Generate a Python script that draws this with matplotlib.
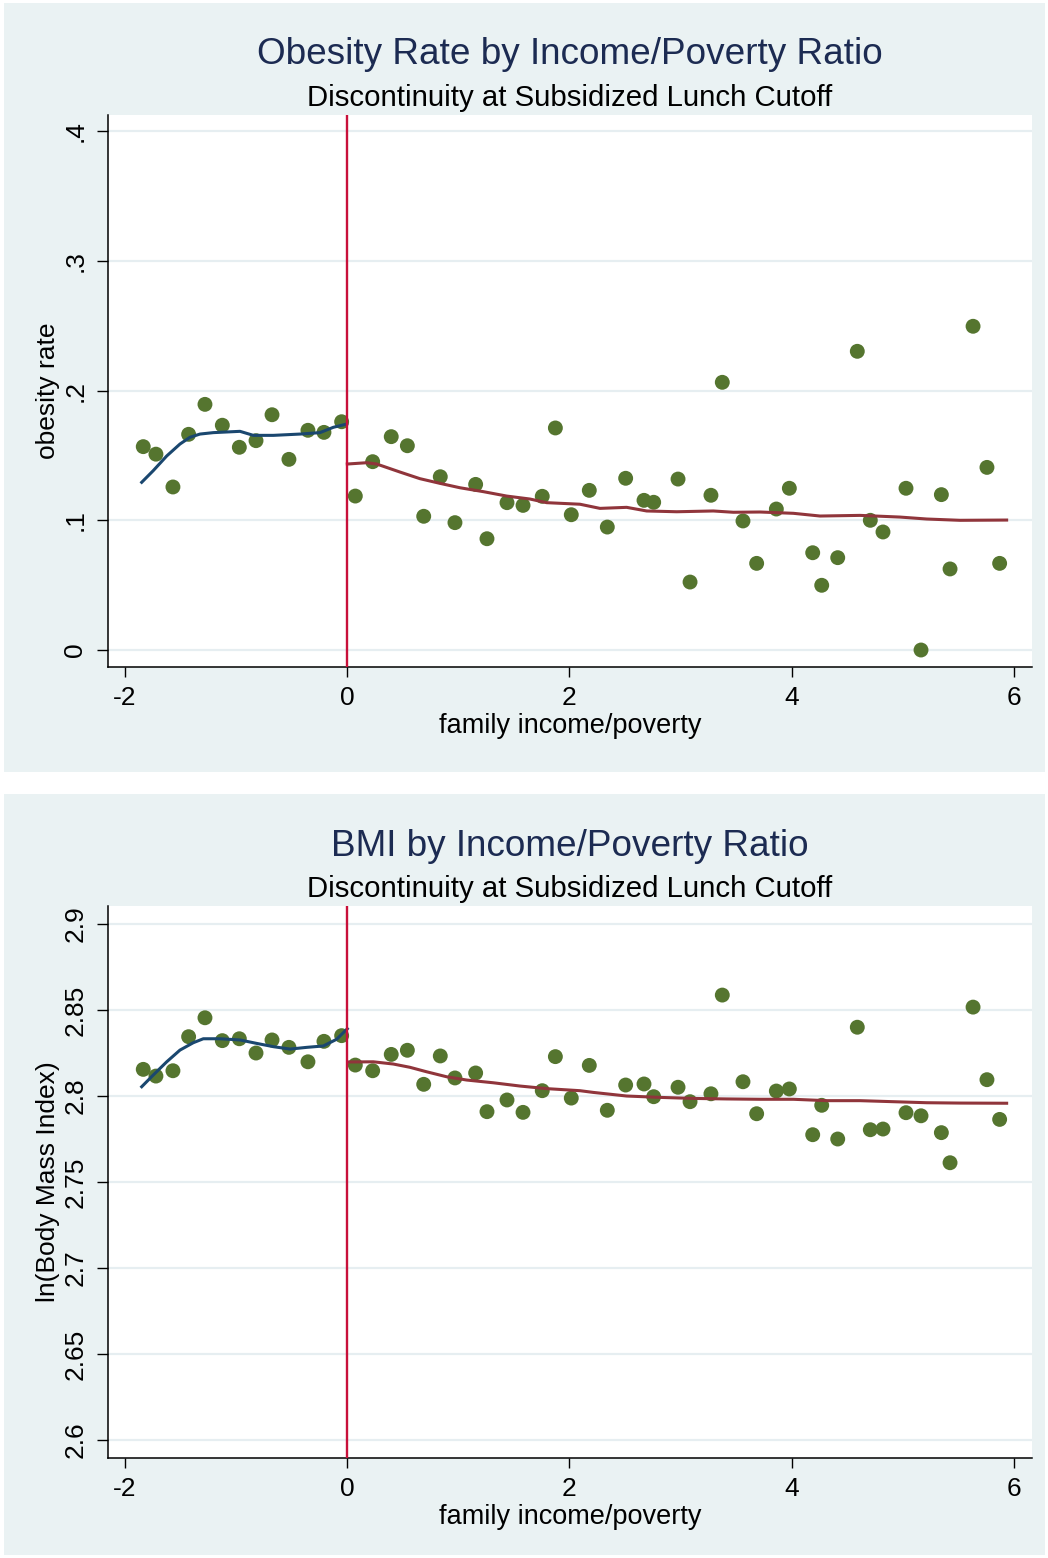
import matplotlib
matplotlib.use("Agg")
import matplotlib.pyplot as plt
from matplotlib.patches import Rectangle

plt.rcParams['font.family'] = ['Liberation Sans', 'DejaVu Sans']

# ---------------- data ----------------
x_left = [-1.832, -1.718, -1.565, -1.424, -1.277, -1.121, -0.968, -0.818,
          -0.674, -0.522, -0.351, -0.207, -0.048]
x_right = [0.075, 0.231, 0.398, 0.543, 0.690, 0.839, 0.971, 1.157, 1.259,
           1.439, 1.583, 1.756, 1.874, 2.017, 2.179, 2.341, 2.506, 2.671,
           2.758, 2.977, 3.085, 3.273, 3.375, 3.561, 3.684, 3.861, 3.978,
           4.188, 4.269, 4.413, 4.589, 4.706, 4.820, 5.027, 5.162, 5.345,
           5.423, 5.630, 5.755, 5.869]

obese_left = [0.1568, 0.1510, 0.1257, 0.1663, 0.1894, 0.1733, 0.1563, 0.1614,
              0.1814, 0.1470, 0.1694, 0.1678, 0.1760]
obese_right = [0.1187, 0.1452, 0.1645, 0.1575, 0.1031, 0.1336, 0.0982, 0.1277,
               0.0858, 0.1136, 0.1115, 0.1185, 0.1712, 0.1043, 0.1231, 0.0948,
               0.1324, 0.1154, 0.1139, 0.1318, 0.0524, 0.1193, 0.2064, 0.0995,
               0.0668, 0.1087, 0.1247, 0.0750, 0.0499, 0.0712, 0.2303, 0.1000,
               0.0910, 0.1247, 0.0000, 0.1198, 0.0625, 0.2496, 0.1408, 0.0668]

bmi_left = [2.8155, 2.8116, 2.8147, 2.8345, 2.8455, 2.8322, 2.8333, 2.8250,
            2.8326, 2.8283, 2.8199, 2.8318, 2.8351]
bmi_right = [2.8180, 2.8147, 2.8242, 2.8266, 2.8068, 2.8233, 2.8105, 2.8134,
             2.7909, 2.7977, 2.7905, 2.8031, 2.8229, 2.7988, 2.8178, 2.7917,
             2.8064, 2.8070, 2.7996, 2.8051, 2.7967, 2.8013, 2.8587, 2.8083,
             2.7897, 2.8029, 2.8041, 2.7775, 2.7946, 2.7750, 2.8400, 2.7804,
             2.7808, 2.7903, 2.7885, 2.7787, 2.7612, 2.8517, 2.8095, 2.7864]

# smoothed fits
fitL_x = [-1.846, -1.742, -1.621, -1.502, -1.412, -1.322, -1.202, -0.962,
          -0.842, -0.662, -0.422, -0.243, -0.123, -0.003]
fitL_ob = [0.1293, 0.1383, 0.1496, 0.1588, 0.1640, 0.1665, 0.1676, 0.1686,
           0.1655, 0.1655, 0.1665, 0.1676, 0.1717, 0.1742]
fitR_x_ob = [0.003, 0.177, 0.267, 0.477, 0.656, 0.836, 1.016, 1.226, 1.436,
             1.646, 1.796, 2.095, 2.275, 2.515, 2.695, 2.965, 3.294, 3.474,
             3.714, 4.014, 4.254, 4.613, 4.973, 5.213, 5.513, 5.932]
fitR_ob = [0.1434, 0.1444, 0.1434, 0.1372, 0.1321, 0.1285, 0.1251, 0.1221,
           0.1187, 0.1164, 0.1136, 0.1124, 0.1092, 0.1100, 0.1072, 0.1066,
           0.1072, 0.1062, 0.1064, 0.1054, 0.1033, 0.1038, 0.1025, 0.1010,
           0.1000, 0.1002]

fitL_x_bmi = [-1.846, -1.742, -1.621, -1.502, -1.382, -1.292, -1.142, -0.962,
              -0.812, -0.662, -0.512, -0.362, -0.213, -0.093, 0.003]
fitL_bmi = [2.8054, 2.8122, 2.8199, 2.8267, 2.8310, 2.8333, 2.8333, 2.8326,
            2.8306, 2.8287, 2.8273, 2.8283, 2.8291, 2.8330, 2.8391]
fitR_x_bmi = [0.012, 0.237, 0.417, 0.566, 0.716, 0.896, 1.076, 1.316, 1.556,
              1.796, 2.095, 2.215, 2.515, 2.815, 3.114, 3.414, 3.714, 4.014,
              4.313, 4.613, 4.913, 5.213, 5.513, 5.932]
fitR_bmi = [2.8198, 2.8199, 2.8186, 2.8167, 2.8141, 2.8112, 2.8093, 2.8077,
            2.8058, 2.8043, 2.8031, 2.8021, 2.8000, 2.7992, 2.7986, 2.7983,
            2.7981, 2.7981, 2.7973, 2.7973, 2.7967, 2.7961, 2.7959, 2.7958]

x_ticks = [-2, 0, 2, 4, 6]
x_ticklabels = ["-2", "0", "2", "4", "6"]
ob_ticks = [0, 0.1, 0.2, 0.3, 0.4]
ob_ticklabels = ["0", ".1", ".2", ".3", ".4"]
bmi_ticks = [2.6, 2.65, 2.7, 2.75, 2.8, 2.85, 2.9]
bmi_ticklabels = ["2.6", "2.65", "2.7", "2.75", "2.8", "2.85", "2.9"]

titles = ["Obesity Rate by Income/Poverty Ratio", "BMI by Income/Poverty Ratio"]
subtitle = "Discontinuity at Subsidized Lunch Cutoff"
xlabel = "family income/poverty"
ylabels = ["obesity rate", "ln(Body Mass Index)"]

# ---------------- style ----------------
W, H = 1048, 1558
BG = "#eaf2f3"
GRID = "#e6eef1"
PT = "#55752f"
NAVY = "#1a476f"
MAROON = "#90353b"
VRED = "#c8103a"
TITLE_C = "#1c2b52"

fig = plt.figure(figsize=(W / 100, H / 100), dpi=100)
fig.patch.set_facecolor("white")


def fx(px):
    return px / W


def fy(py):
    return 1 - py / H


def add_panel(y0, y1):
    fig.patches.append(Rectangle((fx(4), fy(y1)), fx(1045) - fx(4), fy(y0) - fy(y1),
                                 transform=fig.transFigure, facecolor=BG,
                                 edgecolor="none", zorder=-10))


def make_axes(top, bottom):
    ax = fig.add_axes([fx(108), fy(bottom), fx(1032) - fx(108), fy(top) - fy(bottom)])
    ax.set_facecolor("white")
    for s in ("top", "right"):
        ax.spines[s].set_visible(False)
    for s in ("left", "bottom"):
        ax.spines[s].set_linewidth(1.1)
        ax.spines[s].set_color("black")
    ax.set_xlim(-2.149, 6.16)
    ax.set_xticks(x_ticks)
    ax.set_xticklabels(x_ticklabels, fontsize=19)
    ax.tick_params(axis="x", length=7.5, width=1.0, pad=6)
    ax.tick_params(axis="y", length=8, width=1.0, pad=7)
    return ax


panels = [
    dict(p=(3, 772), ax=(115, 667), ylim=(-0.0131, 0.4125), ticks=ob_ticks,
         labels=ob_ticklabels, yl=obese_left, yr=obese_right,
         fl=(fitL_x, fitL_ob), fr=(fitR_x_ob, fitR_ob), title_y=55, sub_y=98,
         xt_y=726, yl_y=391),
    dict(p=(794, 1555), ax=(906, 1458), ylim=(2.5895, 2.9105), ticks=bmi_ticks,
         labels=bmi_ticklabels, yl=bmi_left, yr=bmi_right,
         fl=(fitL_x_bmi, fitL_bmi), fr=(fitR_x_bmi, fitR_bmi), title_y=847,
         sub_y=889, xt_y=1517, yl_y=1182),
]

for i, P in enumerate(panels):
    add_panel(*P["p"])
    ax = make_axes(*P["ax"])
    ax.set_ylim(*P["ylim"])
    ax.set_yticks(P["ticks"])
    ax.set_yticklabels(P["labels"], fontsize=19, rotation=90, va="center")
    ax.yaxis.grid(True, color=GRID, linewidth=1.6, zorder=0)
    ax.set_axisbelow(True)
    ax.scatter(x_left + x_right, P["yl"] + P["yr"], s=115, color=PT,
               edgecolors="none", zorder=3)
    ax.plot(*P["fl"], color=NAVY, linewidth=2.2, zorder=4)
    ax.plot(*P["fr"], color=MAROON, linewidth=2.2, zorder=4)
    ax.axvline(0, color=VRED, linewidth=1.7, zorder=5)

    fig.text(fx(570), fy(P["title_y"]), titles[i], ha="center", va="center",
             fontsize=26.6, color=TITLE_C)
    fig.text(fx(570), fy(P["sub_y"]), subtitle, ha="center", va="center",
             fontsize=21.2, color="black")
    fig.text(fx(570), fy(P["xt_y"]), xlabel, ha="center", va="center",
             fontsize=19.5, color="black")
    fig.text(fx(48), fy(P["yl_y"]), ylabels[i], ha="center", va="center",
             rotation=90, fontsize=19, color="black")

fig.savefig("out.png", dpi=100, facecolor="white")
